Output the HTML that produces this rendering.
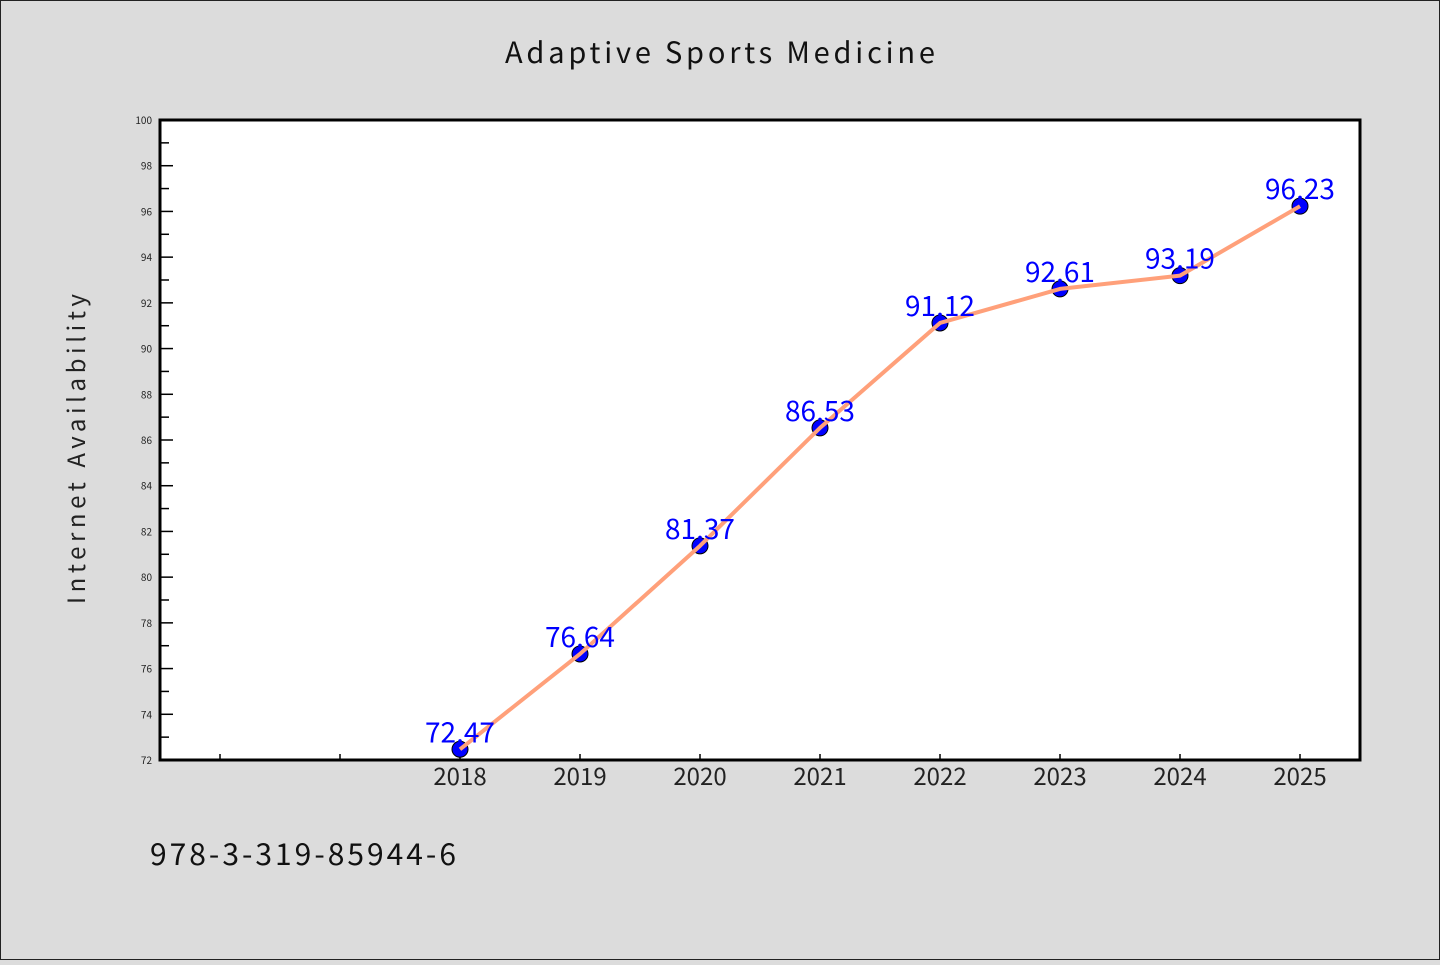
<!DOCTYPE html>
<html><head><meta charset="utf-8"><style>
html,body{margin:0;padding:0;background:#dcdcdc;}
svg, svg text{font-family:"WenQuanYi Zen Hei Mono","WenQuanYi Zen Hei","Noto Sans CJK SC","DejaVu Sans",sans-serif;}
</style></head><body>
<svg width="1440" height="960" viewBox="0 0 1440 960" xmlns="http://www.w3.org/2000/svg">
<rect x="0.5" y="0.5" width="1439" height="959" fill="#dcdcdc" stroke="#222"/>
<text x="720" y="63" text-anchor="middle" font-size="29" fill="#111" textLength="430" lengthAdjust="spacing">Adaptive Sports Medicine</text>
<rect x="160" y="120" width="1200" height="640" fill="#fff"/>
<g id="yaxis"></g>
<g id="xaxis"></g>
<g id="series"></g>
<rect x="160" y="120" width="1200" height="640" fill="none" stroke="#000" stroke-width="3"/>
<text transform="translate(85,449) rotate(-90)" text-anchor="middle" font-size="24" fill="#222" textLength="310" lengthAdjust="spacing">Internet Availability</text>
<text x="150" y="865" font-size="30" fill="#111" textLength="306" lengthAdjust="spacing">978-3-319-85944-6</text>
</svg>
<script>
const categories = ["2018","2019","2020","2021","2022","2023","2024","2025"];
const values = [72.47,76.64,81.37,86.53,91.12,92.61,93.19,96.23];
const valueLabels = ["72.47","76.64","81.37","86.53","91.12","92.61","93.19","96.23"];
const yTicks = [72,74,76,78,80,82,84,86,88,90,92,94,96,98,100];
const yMin = 72, yMax = 100;
const NS = "http://www.w3.org/2000/svg";
const L=160,R=1360,T=120,B=760;
function yS(v){return B-(v-yMin)/(yMax-yMin)*(B-T);}
const slots = categories.length + 2;
function xS(i){return L+(i+2+0.5)*(R-L)/slots;}
function mk(tag,attrs,parent){const e=document.createElementNS(NS,tag);for(const k in attrs)e.setAttribute(k,attrs[k]);parent.appendChild(e);return e;}
const ya=document.getElementById('yaxis');
yTicks.forEach((t,i)=>{
  const y=yS(t);
  const ln=mk('line',{x1:L,x2:L+13,y1:y,y2:y,stroke:'#000','stroke-width':1.5},ya);
  
  
  const tx=mk('text',{x:152,y:y+4,'text-anchor':'end','font-size':10,fill:'#222'},ya);
  tx.textContent=t;
  
  
  if(i<yTicks.length-1){
    const ym=yS(t+(yTicks[1]-yTicks[0])/2);
    const mn=mk('line',{x1:L,x2:L+9,y1:ym,y2:ym,stroke:'#000','stroke-width':1.5},ya);
    
    
  }
});
const xa=document.getElementById('xaxis');
for(let i=-2;i<categories.length;i++){
  const x=xS(i);
  const tk=mk('line',{x1:x,x2:x,y1:B,y2:B-6,stroke:'#000','stroke-width':1.5},xa);
  
  
  if(i>=0){
    const tx=mk('text',{x:x,y:B+25,'text-anchor':'middle','font-size':24,fill:'#222'},xa);
    tx.textContent=categories[i];
    
    
  }
}
const sg=document.getElementById('series');
values.forEach((v,i)=>{
  const c=mk('circle',{cx:xS(i),cy:yS(v),r:8,fill:'#0000ff',stroke:'#000','stroke-width':1},sg);
  
  
});
const pl=mk('polyline',{points:values.map((v,i)=>xS(i)+','+yS(v)).join(' '),fill:'none',stroke:'#ffa07a','stroke-width':4,'stroke-linejoin':'round'},sg);


values.forEach((v,i)=>{
  const t=mk('text',{x:xS(i),y:yS(v)-7,'text-anchor':'middle','font-size':28,fill:'#0000ff'},sg);
  t.textContent=valueLabels[i];
  
  
});
</script>
</body></html>
